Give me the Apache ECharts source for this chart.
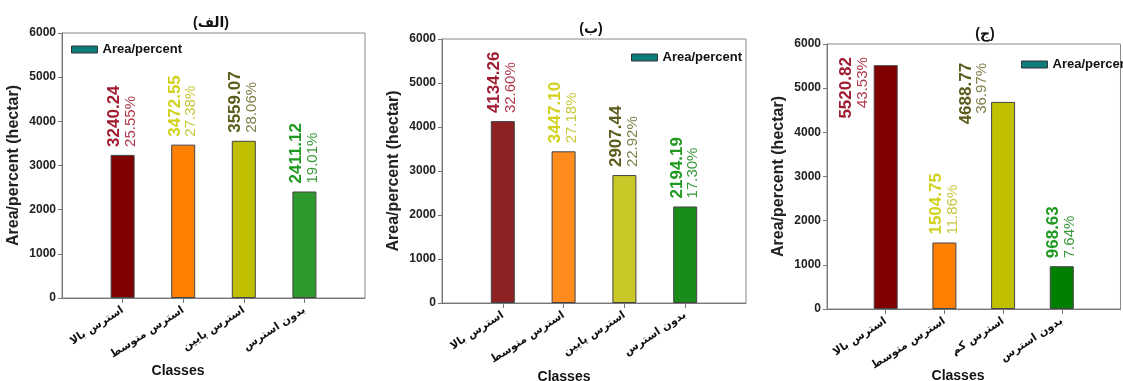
<!DOCTYPE html>
<html>
<head>
<meta charset="utf-8">
<script src="https://cdn.jsdelivr.net/npm/echarts@6/dist/echarts.min.js"></script>
<style>
  html, body { margin: 0; padding: 0; background: #fff; }
  #chart { width: 1123px; height: 381px; }
</style>
</head>
<body>
<div id="chart"></div>
<script>
// Stress classes (category labels) for each map
const classesA = ['استرس بالا', 'استرس متوسط', 'استرس پایین', 'بدون استرس'];
const classesB = ['استرس بالا', 'استرس متوسط', 'استرس پایین', 'بدون استرس'];
const classesC = ['استرس بالا', 'استرس متوسط', 'استرس کم', 'بدون استرس'];

// Area (hectare) per class
const areaA = [3240.24, 3472.55, 3559.07, 2411.12];
const areaB = [4134.26, 3447.10, 2907.44, 2194.19];
const areaC = [5520.82, 1504.75, 4688.77, 968.63];

// Share of total area (%)
const pctA = [25.55, 27.38, 28.06, 19.01];
const pctB = [32.60, 27.18, 22.92, 17.30];
const pctC = [43.53, 11.86, 36.97, 7.64];

const panelTitles = ['(الف)', '(ب)', '(ج)'];
const yTicks = [0, 1000, 2000, 3000, 4000, 5000, 6000];
const seriesName = 'Area/percent';

const FONT = '"Liberation Sans", Arial, "DejaVu Sans", sans-serif';
const barColorsA = ['#800000', '#ff8000', '#c0c000', '#2e9a2e'];
const barColorsB = ['#8e2222', '#ff8c1c', '#c8c828', '#1a8c1a'];
const barColorsC = ['#800000', '#ff8000', '#c0c000', '#008000'];
const valueColors = ['#a01c30', '#d2d21e', '#5c5c1c', '#219a21'];
const pctColors = ['#b03a4c', '#c8c840', '#80804c', '#3a9a3a'];

const grids = [
  { left: 62, top: 33, width: 303, height: 265 },
  { left: 442, top: 39, width: 304, height: 264 },
  { left: 827, top: 44, width: 301, height: 265 }
];

function buildSeries(gi, values, pcts, barColors, sideLabels) {
  const data = ['-'];
  values.forEach((v, i) => {
    const label = {
      formatter: '{v|' + v.toFixed(2) + '}\n{p|' + pcts[i].toFixed(2) + '%}',
      rich: {
        v: { fontFamily: FONT, fontSize: 17, fontWeight: 'bold', color: valueColors[i], lineHeight: 16 },
        p: { fontFamily: FONT, fontSize: 15, color: pctColors[i], lineHeight: 16 }
      }
    };
    if (sideLabels && sideLabels[i]) {
      label.position = sideLabels[i];
      label.align = 'right';
    }
    data.push({ value: v, itemStyle: { color: barColors[i] }, label: label });
  });
  data.push('-');
  return {
    name: seriesName,
    type: 'bar',
    xAxisIndex: gi,
    yAxisIndex: gi,
    barWidth: 24,
    itemStyle: { borderColor: '#444', borderWidth: 1 },
    label: {
      show: true,
      position: 'top',
      distance: 8,
      rotate: 90,
      align: 'left',
      verticalAlign: 'middle'
    },
    data: data
  };
}

function xAxis(gi, cats) {
  return {
    type: 'category',
    gridIndex: gi,
    boundaryGap: false,
    data: [''].concat(cats).concat(['']),
    axisLine: { lineStyle: { color: '#777', width: 1 } },
    axisTick: { length: 5, lineStyle: { color: '#777' }, interval: (i) => i > 0 && i < cats.length + 1 },
    axisLabel: {
      rotate: 33,
      margin: 11,
      fontFamily: '"DejaVu Sans", sans-serif',
      fontSize: 11,
      fontWeight: 'bold',
      color: '#111',
      interval: 0
    },
    splitLine: { show: false }
  };
}

function yAxis(gi) {
  return {
    type: 'value',
    gridIndex: gi,
    min: yTicks[0],
    max: yTicks[yTicks.length - 1],
    interval: yTicks[1] - yTicks[0],
    name: 'Area/percent (hectar)',
    nameLocation: 'middle',
    nameGap: 40,
    nameTextStyle: { fontFamily: FONT, fontSize: 16, fontWeight: 'bold', color: '#222' },
    axisLine: { show: true, lineStyle: { color: '#777' } },
    axisTick: { show: true, length: 4, lineStyle: { color: '#777' } },
    axisLabel: {
      fontFamily: FONT, fontSize: 12, fontWeight: 'bold', color: '#222', margin: 6,
      formatter: (v) => String(v)
    },
    splitLine: { show: false }
  };
}

const legendPos = [
  { left: 66, top: 38 },
  { left: 626, top: 46 },
  { left: 1016, top: 53 }
];
const titlePos = [
  { left: 206, top: 11 },
  { left: 586, top: 17 },
  { left: 980, top: 22 }
];
const classesPos = [[178, 371], [564, 377], [958, 376]];

const option = {
  backgroundColor: '#fff',
  animation: false,
  title: panelTitles.map((t, i) => ({
    text: t,
    left: titlePos[i].left,
    top: titlePos[i].top,
    textAlign: 'center',
    textStyle: { fontFamily: FONT, fontSize: 14, fontWeight: 'bold', color: '#111' }
  })),
  legend: legendPos.map((p) => ({
    left: p.left,
    top: p.top,
    orient: 'horizontal',
    itemWidth: 26,
    itemHeight: 7,
    itemGap: 5,
    selectedMode: false,
    textStyle: { fontFamily: FONT, fontSize: 13, fontWeight: 'bold', color: '#111' },
    data: [{ name: seriesName, icon: 'rect', itemStyle: { color: '#0e7c7b', borderColor: '#333', borderWidth: 1 } }]
  })),
  grid: grids.map((g) => Object.assign({ show: true, borderColor: '#888', borderWidth: 1, backgroundColor: 'transparent' }, g)),
  xAxis: [xAxis(0, classesA), xAxis(1, classesB), xAxis(2, classesC)],
  yAxis: [yAxis(0), yAxis(1), yAxis(2)],
  series: [
    buildSeries(0, areaA, pctA, barColorsA),
    buildSeries(1, areaB, pctB, barColorsB),
    buildSeries(2, areaC, pctC, barColorsC, [[-19, -8], null, [-17, -39], null])
  ],
  graphic: classesPos.map((p) => ({
    type: 'text',
    x: p[0],
    y: p[1],
    style: {
      text: 'Classes',
      fontFamily: FONT,
      fontSize: 14,
      fontWeight: 'bold',
      fill: '#111',
      align: 'center',
      verticalAlign: 'middle'
    }
  }))
};

const chart = echarts.init(document.getElementById('chart'), null, { renderer: 'canvas' });
chart.setOption(option);
</script>
</body>
</html>
